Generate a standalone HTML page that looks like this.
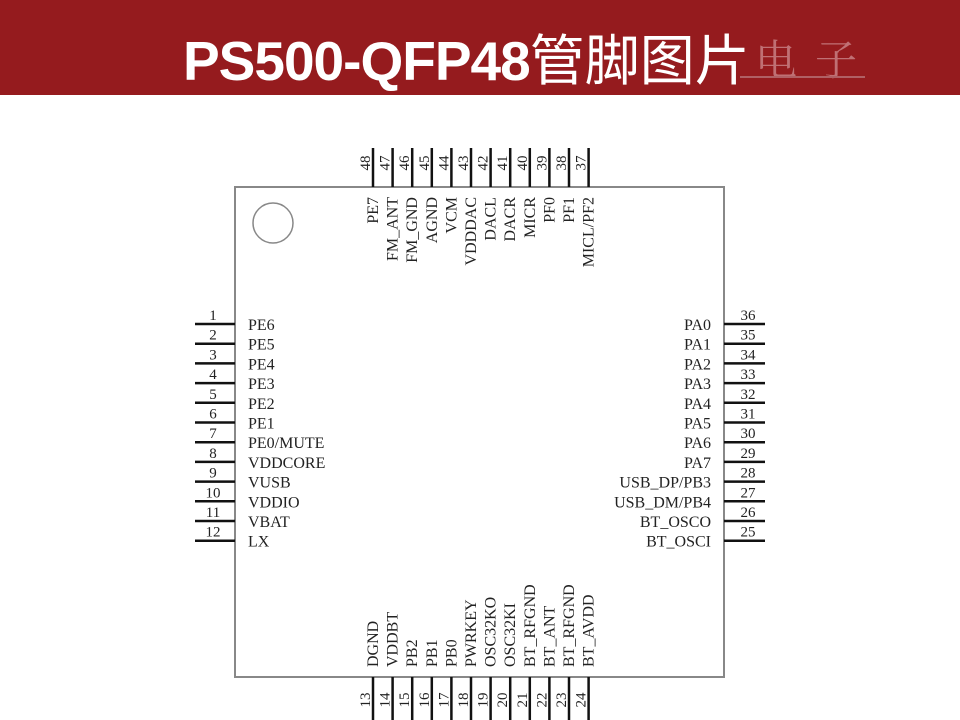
<!DOCTYPE html>
<html><head><meta charset="utf-8"><style>
html,body{margin:0;padding:0;background:#fff;width:960px;height:720px;overflow:hidden}
.hdr{position:absolute;left:0;top:0;width:960px;height:95px;background:#951b1e}
.t{position:absolute;left:183px;top:16px;font:bold 55px "Liberation Sans","Noto Sans CJK SC",sans-serif;color:#fff;white-space:nowrap;letter-spacing:-1px}
.t span{font-weight:normal;letter-spacing:0}
.wm{position:absolute;left:755px;top:28px;font:42px "Noto Serif CJK SC",serif;color:#c07074;letter-spacing:18px}
.wl{position:absolute;left:740px;top:76px;width:125px;height:2px;background:#b06064}
svg{position:absolute;left:0;top:0}
text{font-family:"Liberation Serif",serif;font-size:16px;fill:#222}
.n{font-size:15px}
</style></head><body>
<div class="hdr"></div>
<div class="wm">电子</div>
<div class="wl"></div>
<div class="t">PS500-QFP48<span>管脚图片</span></div>
<svg width="960" height="720">
<rect x="235" y="187" width="489" height="490" fill="none" stroke="#888" stroke-width="2"/>
<circle cx="273" cy="223" r="20" fill="none" stroke="#888" stroke-width="1.5"/>
<g stroke="#111" stroke-width="2.5">
<line x1="195" y1="324" x2="235" y2="324"/><line x1="195" y1="343.7" x2="235" y2="343.7"/><line x1="195" y1="363.4" x2="235" y2="363.4"/><line x1="195" y1="383.1" x2="235" y2="383.1"/><line x1="195" y1="402.8" x2="235" y2="402.8"/><line x1="195" y1="422.5" x2="235" y2="422.5"/><line x1="195" y1="442.2" x2="235" y2="442.2"/><line x1="195" y1="461.9" x2="235" y2="461.9"/><line x1="195" y1="481.6" x2="235" y2="481.6"/><line x1="195" y1="501.3" x2="235" y2="501.3"/><line x1="195" y1="521" x2="235" y2="521"/><line x1="195" y1="540.7" x2="235" y2="540.7"/>
<line x1="724" y1="324" x2="765" y2="324"/><line x1="724" y1="343.7" x2="765" y2="343.7"/><line x1="724" y1="363.4" x2="765" y2="363.4"/><line x1="724" y1="383.1" x2="765" y2="383.1"/><line x1="724" y1="402.8" x2="765" y2="402.8"/><line x1="724" y1="422.5" x2="765" y2="422.5"/><line x1="724" y1="442.2" x2="765" y2="442.2"/><line x1="724" y1="461.9" x2="765" y2="461.9"/><line x1="724" y1="481.6" x2="765" y2="481.6"/><line x1="724" y1="501.3" x2="765" y2="501.3"/><line x1="724" y1="521" x2="765" y2="521"/><line x1="724" y1="540.7" x2="765" y2="540.7"/>
<line x1="373" y1="148" x2="373" y2="187"/><line x1="392.6" y1="148" x2="392.6" y2="187"/><line x1="412.2" y1="148" x2="412.2" y2="187"/><line x1="431.8" y1="148" x2="431.8" y2="187"/><line x1="451.4" y1="148" x2="451.4" y2="187"/><line x1="471" y1="148" x2="471" y2="187"/><line x1="490.6" y1="148" x2="490.6" y2="187"/><line x1="510.2" y1="148" x2="510.2" y2="187"/><line x1="529.8" y1="148" x2="529.8" y2="187"/><line x1="549.4" y1="148" x2="549.4" y2="187"/><line x1="569" y1="148" x2="569" y2="187"/><line x1="588.6" y1="148" x2="588.6" y2="187"/>
<line x1="373" y1="677" x2="373" y2="720"/><line x1="392.6" y1="677" x2="392.6" y2="720"/><line x1="412.2" y1="677" x2="412.2" y2="720"/><line x1="431.8" y1="677" x2="431.8" y2="720"/><line x1="451.4" y1="677" x2="451.4" y2="720"/><line x1="471" y1="677" x2="471" y2="720"/><line x1="490.6" y1="677" x2="490.6" y2="720"/><line x1="510.2" y1="677" x2="510.2" y2="720"/><line x1="529.8" y1="677" x2="529.8" y2="720"/><line x1="549.4" y1="677" x2="549.4" y2="720"/><line x1="569" y1="677" x2="569" y2="720"/><line x1="588.6" y1="677" x2="588.6" y2="720"/>
</g>
<g text-anchor="middle" class="n">
<text class="n" x="213" y="320">1</text><text class="n" x="213" y="339.7">2</text><text class="n" x="213" y="359.4">3</text><text class="n" x="213" y="379.1">4</text><text class="n" x="213" y="398.8">5</text><text class="n" x="213" y="418.5">6</text><text class="n" x="213" y="438.2">7</text><text class="n" x="213" y="457.9">8</text><text class="n" x="213" y="477.6">9</text><text class="n" x="213" y="497.3">10</text><text class="n" x="213" y="517">11</text><text class="n" x="213" y="536.7">12</text>
<text class="n" x="748" y="320">36</text><text class="n" x="748" y="339.7">35</text><text class="n" x="748" y="359.4">34</text><text class="n" x="748" y="379.1">33</text><text class="n" x="748" y="398.8">32</text><text class="n" x="748" y="418.5">31</text><text class="n" x="748" y="438.2">30</text><text class="n" x="748" y="457.9">29</text><text class="n" x="748" y="477.6">28</text><text class="n" x="748" y="497.3">27</text><text class="n" x="748" y="517">26</text><text class="n" x="748" y="536.7">25</text>
</g>
<g>
<text x="248" y="330">PE6</text><text x="248" y="349.7">PE5</text><text x="248" y="369.4">PE4</text><text x="248" y="389.1">PE3</text><text x="248" y="408.8">PE2</text><text x="248" y="428.5">PE1</text><text x="248" y="448.2">PE0/MUTE</text><text x="248" y="467.9">VDDCORE</text><text x="248" y="487.6">VUSB</text><text x="248" y="507.3">VDDIO</text><text x="248" y="527">VBAT</text><text x="248" y="546.7">LX</text>
</g>
<g text-anchor="end">
<text x="711" y="330">PA0</text><text x="711" y="349.7">PA1</text><text x="711" y="369.4">PA2</text><text x="711" y="389.1">PA3</text><text x="711" y="408.8">PA4</text><text x="711" y="428.5">PA5</text><text x="711" y="448.2">PA6</text><text x="711" y="467.9">PA7</text><text x="711" y="487.6">USB_DP/PB3</text><text x="711" y="507.3">USB_DM/PB4</text><text x="711" y="527">BT_OSCO</text><text x="711" y="546.7">BT_OSCI</text>
</g>
<g text-anchor="middle">
<text class="n" transform="translate(370,163) rotate(-90)">48</text><text class="n" transform="translate(389.6,163) rotate(-90)">47</text><text class="n" transform="translate(409.2,163) rotate(-90)">46</text><text class="n" transform="translate(428.8,163) rotate(-90)">45</text><text class="n" transform="translate(448.4,163) rotate(-90)">44</text><text class="n" transform="translate(468,163) rotate(-90)">43</text><text class="n" transform="translate(487.6,163) rotate(-90)">42</text><text class="n" transform="translate(507.2,163) rotate(-90)">41</text><text class="n" transform="translate(526.8,163) rotate(-90)">40</text><text class="n" transform="translate(546.4,163) rotate(-90)">39</text><text class="n" transform="translate(566,163) rotate(-90)">38</text><text class="n" transform="translate(585.6,163) rotate(-90)">37</text>
<text class="n" transform="translate(370,700) rotate(-90)">13</text><text class="n" transform="translate(389.6,700) rotate(-90)">14</text><text class="n" transform="translate(409.2,700) rotate(-90)">15</text><text class="n" transform="translate(428.8,700) rotate(-90)">16</text><text class="n" transform="translate(448.4,700) rotate(-90)">17</text><text class="n" transform="translate(468,700) rotate(-90)">18</text><text class="n" transform="translate(487.6,700) rotate(-90)">19</text><text class="n" transform="translate(507.2,700) rotate(-90)">20</text><text class="n" transform="translate(526.8,700) rotate(-90)">21</text><text class="n" transform="translate(546.4,700) rotate(-90)">22</text><text class="n" transform="translate(566,700) rotate(-90)">23</text><text class="n" transform="translate(585.6,700) rotate(-90)">24</text>
</g>
<g text-anchor="end">
<text transform="translate(378,197) rotate(-90)">PE7</text><text transform="translate(397.6,197) rotate(-90)">FM_ANT</text><text transform="translate(417.2,197) rotate(-90)">FM_GND</text><text transform="translate(436.8,197) rotate(-90)">AGND</text><text transform="translate(456.4,197) rotate(-90)">VCM</text><text transform="translate(476,197) rotate(-90)">VDDDAC</text><text transform="translate(495.6,197) rotate(-90)">DACL</text><text transform="translate(515.2,197) rotate(-90)">DACR</text><text transform="translate(534.8,197) rotate(-90)">MICR</text><text transform="translate(554.4,197) rotate(-90)">PF0</text><text transform="translate(574,197) rotate(-90)">PF1</text><text transform="translate(593.6,197) rotate(-90)">MICL/PF2</text>
</g>
<g text-anchor="start">
<text transform="translate(378,667) rotate(-90)">DGND</text><text transform="translate(397.6,667) rotate(-90)">VDDBT</text><text transform="translate(417.2,667) rotate(-90)">PB2</text><text transform="translate(436.8,667) rotate(-90)">PB1</text><text transform="translate(456.4,667) rotate(-90)">PB0</text><text transform="translate(476,667) rotate(-90)">PWRKEY</text><text transform="translate(495.6,667) rotate(-90)">OSC32KO</text><text transform="translate(515.2,667) rotate(-90)">OSC32KI</text><text transform="translate(534.8,667) rotate(-90)">BT_RFGND</text><text transform="translate(554.4,667) rotate(-90)">BT_ANT</text><text transform="translate(574,667) rotate(-90)">BT_RFGND</text><text transform="translate(593.6,667) rotate(-90)">BT_AVDD</text>
</g>
</svg>
</body></html>
